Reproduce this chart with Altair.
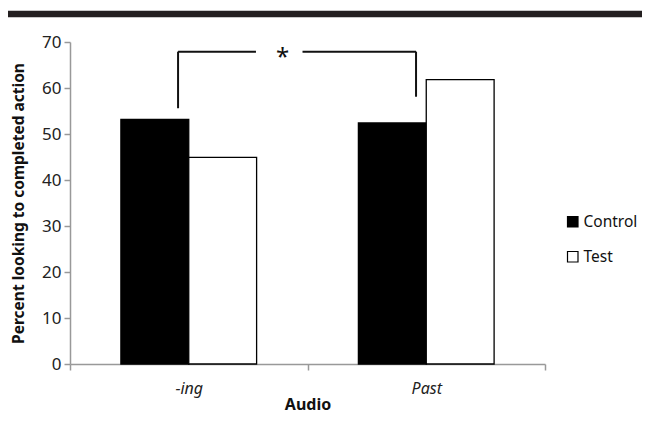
import altair as alt
import pandas as pd

categories = ["-ing", "-ing", "Past", "Past"]
conditions = ["Control", "Test", "Control", "Test"]
values = [53.2, 44.9, 52.4, 61.8]

# bracket in category units (-ing spans 0-1, Past spans 1-2)
br_x = [0.455, 1.457, 0.455, 0.979]
br_x2 = [0.455, 1.457, 0.783, 1.457]
br_y = [55.6, 58.1, 67.9, 67.9]
br_y2 = [67.9, 67.9, 67.9, 67.9]
star_x = [0.895]
star_y = [67.3]

FONT = "Noto Sans"
W, H = 475, 322

bars_df = pd.DataFrame({"Audio": categories, "cond": conditions, "val": values})
br_df = pd.DataFrame({"x": br_x, "x2": br_x2, "y": br_y, "y2": br_y2})
star_df = pd.DataFrame({"x": star_x, "y": star_y, "t": ["*"]})

yscale = alt.Scale(domain=[0, 70], nice=False)

bars = alt.Chart(bars_df).mark_bar(stroke="black", strokeWidth=1.3).encode(
    x=alt.X("Audio:N", sort=["-ing", "Past"],
            scale=alt.Scale(paddingInner=0, paddingOuter=0),
            axis=alt.Axis(title="Audio", labelAngle=0, labelFontStyle="italic",
                          labelFontSize=16, labelFont=FONT, labelColor="#222",
                          titleFont=FONT, titleFontSize=16, titleFontWeight="bold",
                          titleColor="#111", titlePadding=0, labelPadding=10,
                          tickBand="extent", tickSize=6, tickColor="#999",
                          domainColor="#999", domainWidth=1.5, tickWidth=1.5)),
    xOffset=alt.XOffset("cond:N", scale=alt.Scale(paddingInner=0, paddingOuter=0.75)),
    y=alt.Y("val:Q", scale=yscale,
            axis=alt.Axis(title="Percent looking to completed action", values=list(range(0, 71, 10)),
                          grid=False, labelFontSize=17, labelFont=FONT, labelColor="#222",
                          titleFont=FONT, titleFontSize=15.5, titleFontWeight="bold",
                          titleColor="#111", titlePadding=15, tickSize=6, tickColor="#999",
                          domainColor="#999", domainWidth=1.5, tickWidth=1.5, labelPadding=3)),
    fill=alt.Fill("cond:N", scale=alt.Scale(domain=["Control", "Test"], range=["black", "white"]),
                  legend=alt.Legend(title=None, orient="none", legendX=495, legendY=172,
                                    symbolType="square", symbolSize=110, symbolStrokeColor="black",
                                    symbolStrokeWidth=1.2, labelFontSize=15.5, labelFont=FONT,
                                    labelColor="#111", rowPadding=18, padding=0, labelOffset=3,
                                    labelLimit=200)),
)

bracket = alt.Chart(br_df).mark_rule(color="#111", strokeWidth=2).encode(
    x=alt.X("x:Q", scale=alt.Scale(domain=[0, 2]), axis=None),
    x2="x2:Q",
    y=alt.Y("y:Q", scale=yscale),
    y2="y2:Q",
)

star = alt.Chart(star_df).mark_text(fontSize=24, font=FONT, color="#111", baseline="middle", dy=4).encode(
    x=alt.X("x:Q", scale=alt.Scale(domain=[0, 2]), axis=None),
    y=alt.Y("y:Q", scale=yscale),
    text="t:N",
)

topbar = alt.Chart(pd.DataFrame({"a": [0]})).mark_rule(color="#231f20", strokeWidth=6.5).encode(
    x=alt.value(-62), x2=alt.value(620), y=alt.value(-28)
)

chart = alt.layer(bars, bracket + star, topbar).resolve_scale(x="independent").properties(
    width=W, height=H,
    autosize=alt.AutoSizeParams(type="none"),
    padding={"left": 62, "top": 34, "right": 97, "bottom": 50},
).configure_view(stroke=None)

chart.save("out.html", embed_options={"renderer": "svg", "actions": False})
